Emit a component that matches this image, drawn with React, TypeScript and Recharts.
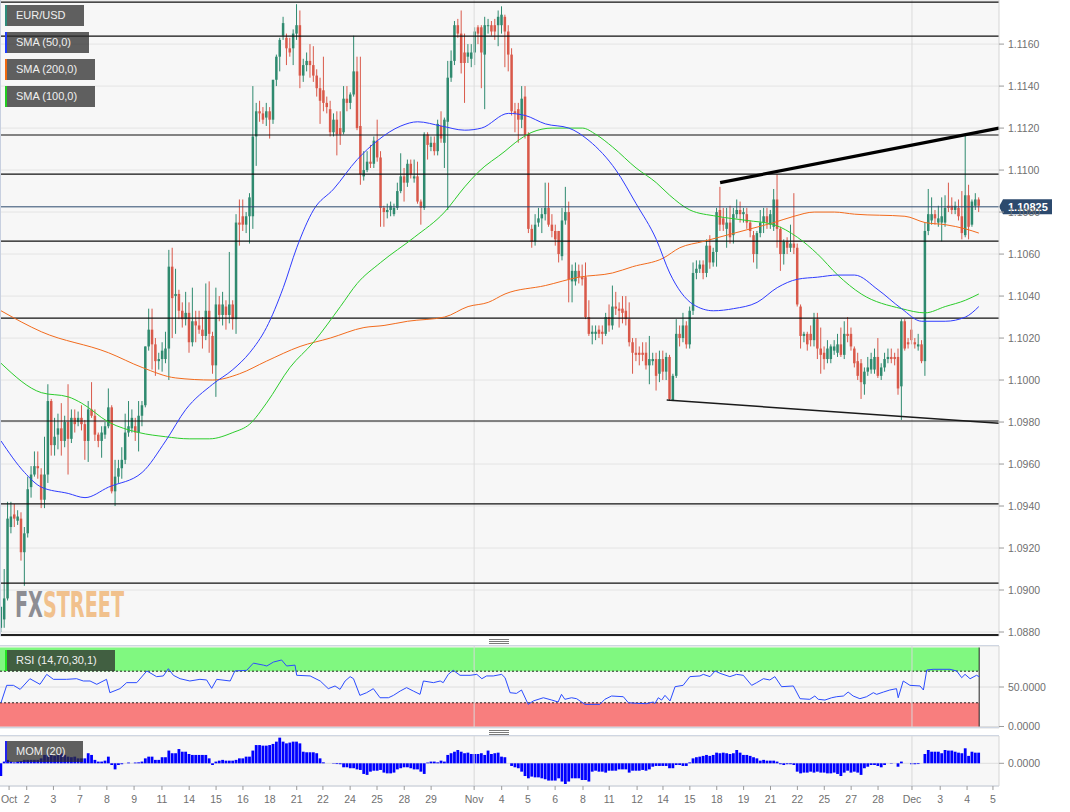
import React from "react";
import {
  ComposedChart,
  Bar,
  Line,
  XAxis,
  YAxis,
  CartesianGrid,
  ReferenceLine,
  ReferenceArea,
} from "recharts";

// ---------- DATA ----------
// 4h candles [open, high, low, close], index 0..291
const candles: number[][] = [
  [1.0882,1.0892,1.0880,1.0892],[1.0886,1.0910,1.0882,1.0896],[1.0896,1.0942,1.0895,1.0934],[1.0930,1.0942,1.0927,1.0935],
  [1.0936,1.0941,1.0930,1.0934],[1.0933,1.0938,1.0931,1.0935],[1.0934,1.0937,1.0914,1.0918],[1.0918,1.0930,1.0902,1.0927],
  [1.0927,1.0954,1.0925,1.0948],[1.0949,1.0959,1.0944,1.0955],[1.0955,1.0966,1.0954,1.0959],[1.0959,1.0966,1.0953,1.0958],
  [1.0955,1.0958,1.0939,1.0943],[1.0943,1.0973,1.0939,1.0955],[1.0955,1.0998,1.0951,1.0990],[1.0990,1.0991,1.0964,1.0969],
  [1.0969,1.0982,1.0964,1.0973],[1.0974,1.0984,1.0967,1.0977],[1.0977,1.0989,1.0964,1.0971],[1.0971,1.0983,1.0968,1.0980],
  [1.0980,1.0998,1.0955,1.0972],[1.0972,1.0986,1.0970,1.0982],[1.0982,1.0986,1.0975,1.0979],[1.0980,1.0985,1.0978,1.0982],
  [1.0982,1.0988,1.0976,1.0979],[1.0979,1.0981,1.0962,1.0971],[1.0971,1.0990,1.0961,1.0986],[1.0986,1.0999,1.0982,1.0983],
  [1.0983,1.0986,1.0971,1.0974],[1.0974,1.0975,1.0968,1.0971],[1.0971,1.0978,1.0963,1.0975],[1.0974,1.0980,1.0972,1.0978],
  [1.0978,1.0996,1.0977,1.0987],[1.0987,1.0988,1.0946,1.0947],[1.0947,1.0962,1.0940,1.0954],[1.0954,1.0962,1.0951,1.0958],
  [1.0958,1.0968,1.0953,1.0962],[1.0962,1.0984,1.0960,1.0975],[1.0975,1.0990,1.0973,1.0978],[1.0977,1.0986,1.0975,1.0982],
  [1.0978,1.0982,1.0971,1.0975],[1.0975,1.0990,1.0966,1.0983],[1.0983,1.0990,1.0978,1.0988],[1.0988,1.1016,1.0987,1.1016],
  [1.1016,1.1034,1.1014,1.1024],[1.1024,1.1034,1.1005,1.1017],[1.1017,1.1020,1.1002,1.1009],[1.1009,1.1013,1.1005,1.1010],
  [1.1010,1.1018,1.1004,1.1014],[1.1010,1.1023,1.1008,1.1015],[1.1015,1.1062,1.1000,1.1054],[1.1054,1.1063,1.1020,1.1039],
  [1.1040,1.1053,1.1022,1.1041],[1.1041,1.1043,1.1029,1.1033],[1.1033,1.1037,1.1025,1.1029],[1.1029,1.1042,1.1026,1.1032],
  [1.1032,1.1037,1.1013,1.1018],[1.1018,1.1044,1.1016,1.1028],[1.1028,1.1033,1.1018,1.1026],[1.1026,1.1033,1.1022,1.1024],
  [1.1024,1.1030,1.1015,1.1021],[1.1021,1.1046,1.1019,1.1033],[1.1033,1.1047,1.1013,1.1022],[1.1021,1.1023,1.1003,1.1007],
  [1.1007,1.1044,1.0992,1.1036],[1.1036,1.1040,1.1028,1.1031],[1.1031,1.1042,1.1026,1.1036],[1.1035,1.1038,1.1024,1.1031],
  [1.1031,1.1061,1.1027,1.1036],[1.1036,1.1038,1.1024,1.1029],[1.1029,1.1079,1.1022,1.1075],[1.1075,1.1086,1.1064,1.1074],
  [1.1078,1.1086,1.1071,1.1074],[1.1074,1.1080,1.1070,1.1078],[1.1078,1.1089,1.1065,1.1087],[1.1078,1.1140,1.1072,1.1116],
  [1.1116,1.1132,1.1102,1.1128],[1.1128,1.1133,1.1123,1.1127],[1.1127,1.1130,1.1122,1.1124],[1.1125,1.1132,1.1121,1.1128],
  [1.1128,1.1130,1.1115,1.1124],[1.1124,1.1143,1.1122,1.1143],[1.1143,1.1155,1.1140,1.1154],[1.1154,1.1163,1.1147,1.1162],
  [1.1164,1.1173,1.1162,1.1170],[1.1163,1.1165,1.1150,1.1158],[1.1158,1.1163,1.1154,1.1156],[1.1158,1.1167,1.1150,1.1165],
  [1.1165,1.1179,1.1162,1.1169],[1.1169,1.1176,1.1139,1.1145],[1.1145,1.1153,1.1142,1.1150],[1.1150,1.1156,1.1147,1.1152],
  [1.1152,1.1160,1.1144,1.1150],[1.1150,1.1159,1.1142,1.1145],[1.1145,1.1148,1.1135,1.1139],[1.1139,1.1144,1.1122,1.1133],
  [1.1138,1.1154,1.1128,1.1132],[1.1132,1.1135,1.1127,1.1130],[1.1129,1.1133,1.1116,1.1118],[1.1118,1.1127,1.1116,1.1124],
  [1.1124,1.1128,1.1107,1.1117],[1.1120,1.1128,1.1112,1.1117],[1.1118,1.1140,1.1117,1.1134],[1.1134,1.1140,1.1128,1.1132],
  [1.1132,1.1137,1.1129,1.1136],[1.1136,1.1164,1.1135,1.1147],[1.1147,1.1154,1.1119,1.1120],[1.1121,1.1154,1.1093,1.1098],
  [1.1097,1.1109,1.1095,1.1100],[1.1100,1.1109,1.1099,1.1104],[1.1104,1.1112,1.1101,1.1103],[1.1103,1.1116,1.1101,1.1114],
  [1.1114,1.1124,1.1104,1.1106],[1.1106,1.1109,1.1073,1.1082],[1.1082,1.1083,1.1073,1.1080],[1.1080,1.1084,1.1077,1.1081],
  [1.1081,1.1085,1.1078,1.1083],[1.1079,1.1084,1.1078,1.1082],[1.1082,1.1094,1.1081,1.1090],[1.1090,1.1108,1.1089,1.1097],
  [1.1097,1.1101,1.1085,1.1094],[1.1094,1.1105,1.1092,1.1103],[1.1103,1.1105,1.1096,1.1098],[1.1096,1.1105,1.1094,1.1097],
  [1.1097,1.1104,1.1084,1.1085],[1.1085,1.1086,1.1074,1.1082],[1.1082,1.1118,1.1081,1.1117],[1.1117,1.1118,1.1105,1.1112],
  [1.1111,1.1116,1.1109,1.1113],[1.1113,1.1116,1.1107,1.1109],[1.1109,1.1124,1.1107,1.1122],[1.1121,1.1128,1.1113,1.1115],
  [1.1113,1.1125,1.1101,1.1124],[1.1123,1.1152,1.1081,1.1144],[1.1144,1.1157,1.1142,1.1152],[1.1152,1.1171,1.1150,1.1169],
  [1.1169,1.1172,1.1163,1.1165],[1.1165,1.1176,1.1146,1.1151],[1.1156,1.1165,1.1132,1.1151],[1.1154,1.1160,1.1151,1.1156],
  [1.1153,1.1160,1.1149,1.1156],[1.1156,1.1168,1.1150,1.1166],[1.1168,1.1169,1.1160,1.1165],[1.1168,1.1169,1.1139,1.1156],
  [1.1155,1.1173,1.1129,1.1169],[1.1169,1.1172,1.1165,1.1169],[1.1169,1.1171,1.1164,1.1166],[1.1169,1.1172,1.1162,1.1166],
  [1.1169,1.1176,1.1159,1.1173],[1.1169,1.1178,1.1165,1.1174],[1.1173,1.1174,1.1149,1.1166],[1.1166,1.1169,1.1147,1.1155],
  [1.1155,1.1158,1.1126,1.1128],[1.1128,1.1132,1.1118,1.1127],[1.1129,1.1132,1.1113,1.1124],[1.1124,1.1140,1.1120,1.1134],
  [1.1135,1.1140,1.1115,1.1117],[1.1117,1.1118,1.1070,1.1072],[1.1072,1.1074,1.1063,1.1066],[1.1066,1.1079,1.1064,1.1074],
  [1.1075,1.1082,1.1073,1.1077],[1.1077,1.1082,1.1070,1.1079],[1.1079,1.1094,1.1076,1.1082],[1.1082,1.1094,1.1073,1.1074],
  [1.1074,1.1079,1.1068,1.1071],[1.1071,1.1074,1.1064,1.1067],[1.1071,1.1071,1.1056,1.1060],[1.1059,1.1082,1.1057,1.1076],
  [1.1076,1.1092,1.1074,1.1080],[1.1080,1.1085,1.1037,1.1048],[1.1047,1.1055,1.1037,1.1052],[1.1047,1.1056,1.1045,1.1052],
  [1.1052,1.1055,1.1046,1.1049],[1.1049,1.1055,1.1045,1.1048],[1.1049,1.1056,1.1029,1.1030],[1.1030,1.1038,1.1021,1.1022],
  [1.1022,1.1026,1.1017,1.1023],[1.1022,1.1026,1.1019,1.1023],[1.1024,1.1026,1.1020,1.1022],[1.1023,1.1026,1.1017,1.1022],
  [1.1022,1.1032,1.1021,1.1030],[1.1030,1.1036,1.1023,1.1026],[1.1026,1.1045,1.1024,1.1035],[1.1035,1.1042,1.1031,1.1034],
  [1.1034,1.1037,1.1025,1.1033],[1.1034,1.1040,1.1027,1.1032],[1.1033,1.1040,1.1026,1.1029],[1.1029,1.1037,1.1016,1.1018],
  [1.1018,1.1020,1.1003,1.1013],[1.1013,1.1020,1.1009,1.1012],[1.1013,1.1016,1.1007,1.1012],[1.1013,1.1018,1.1009,1.1012],
  [1.1013,1.1018,1.1005,1.1007],[1.1007,1.1021,1.0998,1.1010],[1.1009,1.1013,1.1007,1.1010],[1.1010,1.1013,1.0995,1.1002],
  [1.1003,1.1014,1.0999,1.1010],[1.1010,1.1014,1.1000,1.1004],[1.1004,1.1013,1.1000,1.1011],[1.1011,1.1012,1.0990,1.0991],
  [1.0990,1.1003,1.0990,1.1002],[1.1002,1.1029,1.1001,1.1022],[1.1022,1.1026,1.1016,1.1020],[1.1020,1.1032,1.1018,1.1026],
  [1.1026,1.1028,1.1015,1.1017],[1.1017,1.1035,1.1015,1.1033],[1.1033,1.1056,1.1031,1.1051],[1.1051,1.1057,1.1048,1.1053],
  [1.1053,1.1057,1.1051,1.1055],[1.1055,1.1057,1.1048,1.1051],[1.1051,1.1067,1.1049,1.1064],[1.1064,1.1069,1.1053,1.1056],
  [1.1056,1.1063,1.1054,1.1061],[1.1061,1.1082,1.1054,1.1080],[1.1081,1.1092,1.1071,1.1074],[1.1077,1.1082,1.1071,1.1074],
  [1.1072,1.1082,1.1063,1.1075],[1.1075,1.1083,1.1065,1.1068],[1.1069,1.1082,1.1065,1.1079],[1.1079,1.1086,1.1077,1.1081],
  [1.1081,1.1085,1.1075,1.1079],[1.1079,1.1082,1.1075,1.1080],[1.1079,1.1082,1.1072,1.1075],[1.1075,1.1076,1.1068,1.1071],
  [1.1069,1.1071,1.1056,1.1060],[1.1060,1.1071,1.1053,1.1070],[1.1070,1.1081,1.1068,1.1075],[1.1075,1.1082,1.1070,1.1078],
  [1.1078,1.1082,1.1072,1.1075],[1.1074,1.1081,1.1072,1.1079],[1.1073,1.1091,1.1071,1.1086],[1.1086,1.1098,1.1063,1.1072],
  [1.1072,1.1073,1.1052,1.1060],[1.1060,1.1067,1.1055,1.1066],[1.1066,1.1068,1.1060,1.1063],[1.1063,1.1074,1.1061,1.1065],
  [1.1065,1.1089,1.1060,1.1063],[1.1063,1.1065,1.1035,1.1036],[1.1035,1.1036,1.1015,1.1021],[1.1021,1.1023,1.1018,1.1022],
  [1.1022,1.1023,1.1014,1.1017],[1.1022,1.1026,1.1016,1.1019],[1.1019,1.1032,1.1016,1.1029],[1.1029,1.1032,1.1010,1.1015],
  [1.1015,1.1025,1.1003,1.1012],[1.1013,1.1016,1.1005,1.1010],[1.1010,1.1019,1.1008,1.1015],[1.1010,1.1017,1.1008,1.1016],
  [1.1014,1.1019,1.1012,1.1016],[1.1013,1.1022,1.1011,1.1017],[1.1017,1.1025,1.1011,1.1012],[1.1012,1.1028,1.1010,1.1022],
  [1.1022,1.1030,1.1018,1.1021],[1.1022,1.1025,1.1014,1.1016],[1.1015,1.1016,1.1006,1.1008],[1.1009,1.1013,1.1000,1.1002],
  [1.1008,1.1010,1.0991,1.0999],[1.0998,1.1006,1.0993,1.1004],[1.1004,1.1011,1.1002,1.1006],[1.1005,1.1013,1.1003,1.1010],
  [1.1005,1.1015,1.1003,1.1011],[1.1011,1.1020,1.1001,1.1002],[1.1002,1.1008,1.1000,1.1006],[1.1006,1.1013,1.1004,1.1010],
  [1.1010,1.1015,1.1008,1.1011],[1.1011,1.1015,1.1008,1.1010],[1.1011,1.1013,1.1007,1.1010],[1.1011,1.1015,1.0993,1.0996],
  [1.0997,1.1029,1.0981,1.1028],[1.1028,1.1029,1.1014,1.1015],[1.1018,1.1020,1.1015,1.1017],[1.1024,1.1029,1.1017,1.1019],
  [1.1018,1.1020,1.1015,1.1017],[1.1016,1.1022,1.1014,1.1017],[1.1017,1.1019,1.1008,1.1009],[1.1009,1.1075,1.1002,1.1071],
  [1.1071,1.1091,1.1069,1.1079],[1.1076,1.1087,1.1074,1.1079],[1.1079,1.1081,1.1074,1.1077],[1.1075,1.1083,1.1073,1.1077],
  [1.1075,1.1087,1.1066,1.1078],[1.1075,1.1088,1.1073,1.1082],[1.1083,1.1094,1.1080,1.1082],[1.1083,1.1087,1.1079,1.1081],
  [1.1081,1.1085,1.1079,1.1083],[1.1082,1.1086,1.1076,1.1078],[1.1078,1.1090,1.1067,1.1070],[1.1069,1.1117,1.1068,1.1088],
  [1.1088,1.1093,1.1067,1.1073],[1.1074,1.1086,1.1073,1.1085],[1.1083,1.1089,1.1081,1.1086],[1.1086,1.1087,1.1080,1.1083],
];

// Moving averages: [candle index, value]
const sma50: number[][] = [
  [0,1.0971],[7,1.0956],[12,1.0949],[20,1.0946],[25,1.0944],[32,1.0949],[42,1.0956],[49,1.0971],[55,1.0986],[63,1.0998],
  [69,1.1005],[74,1.1013],[79,1.1025],[84,1.1044],[88,1.1063],[93,1.1081],[99,1.1091],[106,1.1105],[112,1.1114],[119,1.1121],
  [124,1.1123],[131,1.1121],[138,1.1119],[143,1.1120],[151,1.1127],[156,1.1126],[162,1.1122],[169,1.1120],[175,1.1114],[183,1.1100],
  [189,1.1084],[195,1.1067],[199,1.1051],[206,1.1036],[212,1.1033],[218,1.1034],[225,1.1037],[231,1.1044],[237,1.1048],[243,1.1049],
  [249,1.1050],[254,1.1050],[261,1.1043],[268,1.1034],[274,1.1028],[281,1.1028],[287,1.1030],[291,1.1035],
];
const sma200: number[][] = [
  [0,1.1033],[12,1.1023],[32,1.1013],[42,1.1006],[52,1.1001],[63,1.1000],[71,1.1003],[79,1.1009],[89,1.1016],[98,1.1020],
  [108,1.1025],[114,1.1026],[121,1.1028],[132,1.1030],[139,1.1035],[145,1.1037],[150,1.1041],[162,1.1045],[172,1.1049],[182,1.1051],
  [188,1.1054],[197,1.1058],[202,1.1063],[209,1.1066],[216,1.1069],[223,1.1072],[230,1.1075],[236,1.1078],[242,1.1080],[248,1.1080],
  [254,1.1079],[269,1.1078],[275,1.1075],[281,1.1074],[287,1.1072],[291,1.1070],
];
const sma100: number[][] = [
  [0,1.1008],[12,1.0994],[20,1.0992],[24,1.0989],[32,1.0980],[41,1.0975],[49,1.0973],[56,1.0972],[62,1.0972],[69,1.0975],
  [74,1.0979],[79,1.0989],[86,1.1006],[93,1.1018],[101,1.1035],[106,1.1046],[113,1.1056],[123,1.1068],[132,1.1080],[138,1.1092],
  [142,1.1099],[150,1.1109],[153,1.1113],[158,1.1118],[164,1.1120],[169,1.1120],[173,1.1120],[177,1.1117],[182,1.1111],[189,1.1101],
  [195,1.1094],[199,1.1088],[205,1.1081],[213,1.1078],[222,1.1076],[230,1.1074],[237,1.1068],[243,1.1060],[249,1.1050],[256,1.1041],
  [268,1.1034],[275,1.1032],[281,1.1035],[287,1.1038],[291,1.1041],
];

// RSI(14): [candle index, value]
const rsiPoints: number[][] = [
  [0,30.1],[1.7,52.1],[3.7,52.1],[5.7,47.0],[8.6,60.5],[11.6,53.4],[13.6,66.0],[15.6,59.7],[19.5,59.7],[22.5,60.5],
  [24.5,57.6],[26.5,57.6],[28.5,53.4],[31.4,59.7],[32.4,42.8],[35.4,47.9],[37.4,55.5],[40.4,55.5],[43.4,70.3],[46.3,63.1],
  [48.3,64.0],[49.8,73.2],[51.3,64.8],[53.3,60.5],[56.2,57.6],[59.2,59.7],[61.2,58.9],[62.7,48.3],[64.2,59.7],[68.2,57.6],
  [69.6,70.3],[73.1,71.1],[75.1,80.2],[78.1,77.7],[79.1,76.6],[81.1,81.6],[83.5,84.2],[85.0,76.6],[87.5,77.7],[88.0,64.8],
  [92.0,64.0],[95.0,57.6],[97.4,47.9],[99.4,51.3],[100.9,47.0],[102.4,57.6],[103.9,63.1],[104.9,60.5],[106.8,39.4],[108.8,42.8],
  [110.8,47.9],[112.8,36.4],[115.3,36.4],[116.8,39.4],[118.8,44.9],[120.7,49.2],[122.7,44.9],[124.7,40.7],[125.7,57.6],[128.7,55.5],
  [130.7,57.6],[131.6,55.5],[133.1,66.0],[134.6,71.1],[136.6,64.8],[139.6,64.8],[141.6,66.0],[143.1,60.5],[144.5,64.0],[146.5,64.0],
  [149,66.0],[150,61.8],[151.5,42.8],[153.4,41.9],[154.9,46.2],[156.9,28.0],[158.4,32.3],[161.4,36.4],[163.9,33.5],[165.8,31.0],
  [166.8,40.7],[167.8,34.4],[169.8,36.4],[171.3,35.2],[173.8,28.0],[178.2,28.0],[179.7,34.4],[181.7,38.6],[185.2,37.7],[186.7,30.1],
  [189.2,29.3],[192.1,28.9],[194.1,31.0],[194.6,28.9],[195.6,36.4],[196.6,33.5],[197.6,39.4],[199.1,32.3],[200.6,50.4],[203.0,52.1],
  [205.0,63.1],[208.0,64.0],[209.0,66.0],[211.0,63.1],[212.5,70.3],[214.0,67.3],[216.9,63.1],[218.9,66.0],[220.9,64.8],[223.4,52.1],
  [224.9,55.5],[226.9,60.5],[228.8,58.9],[230.3,63.1],[232.3,50.4],[235.8,51.3],[237.8,35.2],[240.7,34.4],[242.2,38.6],[243.2,34.4],
  [245.2,33.5],[247.2,36.4],[248.7,37.7],[250.7,38.6],[252.1,43.6],[253.6,38.6],[255.6,35.2],[257.6,37.7],[259.6,42.8],[260.6,40.7],
  [262.6,43.6],[264.5,46.2],[266.5,47.9],[267.0,36.4],[268.5,57.6],[270.5,52.1],[273.5,51.3],[274.5,46.2],[275.5,71.5],[277.4,72.4],
  [282.4,72.4],[284.4,70.3],[285.9,61.8],[286.9,66.0],[288.4,60.5],[290.3,64.8],[291.1,63.1],
];

// Momentum(20), one value per candle, in pips
const momPips: number[] = [
  -67,9,18,9,5,9,12,18,18,18, 18,18,26,44,44,44,39,44,53,44, 35,32,35,26,26,26,53,44,18,9,
  9,14,35,-9,-32,-9,-5,0,4,0, 4,5,9,26,35,35,18,18,32,32, 67,53,53,75,61,61,49,44,44,44,
  44,44,26,-9,9,14,18,14,14,14, 18,26,26,35,35,67,96,96,93,93, 96,102,114,135,114,105,109,114,114,105,
  61,58,58,58,53,26,5,0,0,-2, -4,-5,-21,-21,-26,-26,-32,-35,-56,-61, -44,-39,-39,-35,-49,-53,-53,-49,-32,-26,
  -21,-21,-26,-32,-32,-44,-56,4,9,9, 5,14,9,44,53,61,70,61,53,56, 49,49,49,53,44,67,
  49,53,56,35,32,0,-14,-21,-26,-44, -67,-79,-70,-74,-74,-79,-84,-91,-91,-91, -79,-96,-109,-96,-79,-79,-79,-88,-88,-96,
  -44,-39,-44,-44,-49,-39,-39,-39,-32,-32, -32,-49,-39,-39,-39,-35,-39,-32,-18,-14, -14,-14,-14,-26,-26,-9,-9,-14,-14,5,
  26,32,35,39,44,39,44,56,53,56, 53,49,53,70,56,44,44,39,32,26, 14,18,14,14,14,9,-5,-9,-5,-5,
  -9,-44,-53,-49,-49,-44,-49,-44,-49,-49, -53,-53,-49,-56,-67,-49,-39,-49,-44,-49, -61,-26,-18,-9,-9,-14,-21,-9,0,-2,
  0,-18,9,0,0,-5,-5,-4,0,49, 70,61,61,61,53,70,67,67,61,56, 53,79,39,61,56,56,
];

const priceTicks = [1.088,1.09,1.092,1.094,1.096,1.098,1.1,1.102,1.104,1.106,1.108,1.11,1.112,1.114,1.116];
const levels = [1.1180,1.11638,1.11167,1.10981,1.10662,1.10295,1.09805,1.0941,1.09033];
const lastPrice = 1.10825;
const upperTrend = [[214,1.1094],[297,1.1120]];
const lowerTrend = [[198.1,1.09905],[297,1.09794]];
const monthStarts = [140.8, 271.1];
const xTickPos = [2.4,7.65,15.6,23.5,31.5,39.6,47.9,56,64,72,80,88,95.8,103.9,111.9,120,128,
  140.8,149,156.8,164.9,173.2,181,189.3,197,205,213,221,229,237,245,253,261,271.1,279.5,287.5,295.2];
const xTickLabels = ["Oct","2","3","7","8","9","11","14","15","16","18","21","22","24","25","28","29",
  "Nov","4","5","6","8","11","12","14","15","18","19","21","22","25","27","28","Dec","3","4","5"];

// ---------- BUILD ----------
const X_MIN = -0.3;
const X_MAX = 297;
const BAND_END = 291.1;
const FONT = '"Liberation Sans", Arial, Helvetica, sans-serif';
const UP = "#2f8a6f";
const DOWN = "#d9594a";

const mainData: any[] = candles.map((c, i) => ({ i, o: c[0], h: c[1], l: c[2], c: c[3], range: [c[2], c[1]] }));
sma50.forEach(([i, v]) => { mainData[i].s50 = v; });
sma200.forEach(([i, v]) => { mainData[i].s200 = v; });
sma100.forEach(([i, v]) => { mainData[i].s100 = v; });
const rsiData = rsiPoints.map(([i, v]) => ({ i, v }));
const momData = momPips.map((p, i) => ({ i, m: p / 10000 }));

function Candle(props: any) {
  const { x, y, width, height, payload } = props;
  if (!payload || x == null || y == null || height == null) return null;
  const top = Math.min(y, y + height);
  const span = Math.abs(height);
  const { o, h, l, c } = payload;
  const cx = x + width / 2;
  const k = h - l > 0 ? span / (h - l) : 0;
  const yo = top + (h - o) * k;
  const yc = top + (h - c) * k;
  const col = c >= o ? UP : DOWN;
  const bt = Math.min(yo, yc);
  const bh = Math.max(Math.abs(yo - yc), 1);
  return (
    <g>
      <line x1={cx} x2={cx} y1={top} y2={top + span} stroke={col} strokeWidth={1} />
      <rect x={cx - 1.25} y={bt} width={2.5} height={bh} fill={col} />
    </g>
  );
}

function MomBar(props: any) {
  const { x, y, width, height } = props;
  if (x == null || y == null || !height) return null;
  const top = Math.min(y, y + height);
  const cx = x + width / 2;
  return <rect x={cx - 1.4} y={top} width={2.8} height={Math.abs(height)} fill="#0000ff" />;
}

function PriceTag(props: any) {
  const vb = props.viewBox || {};
  const x0 = (vb.x || 0) + (vb.width || 0);
  const yc = vb.y || 0;
  return (
    <g>
      <path d={`M${x0} ${yc} L${x0 + 4} ${yc - 7.5} L${x0 + 53} ${yc - 7.5} L${x0 + 53} ${yc + 7.5} L${x0 + 4} ${yc + 7.5} Z`} fill="#2c4a6e" />
      <text x={x0 + 9} y={yc + 4} fill="#ffffff" fontSize={11} fontWeight="bold" fontFamily={FONT}>
        {lastPrice.toFixed(5)}
      </text>
    </g>
  );
}

const axisTick = { fontSize: 10.5, fill: "#707070", fontFamily: FONT };

function LegendBox(props: { top: number; width: number; stripe: string; text: string }) {
  return (
    <div
      style={{
        position: "absolute", left: 5, top: props.top, width: props.width, height: 21,
        background: "rgba(44,44,44,0.75)", color: "#f0f0f0", font: `11px ${FONT}`,
        lineHeight: "21px", paddingLeft: 11, boxSizing: "border-box", whiteSpace: "nowrap",
      }}
    >
      <div style={{ position: "absolute", left: 0, top: 0, width: 2, height: 21, background: props.stripe }} />
      {props.text}
    </div>
  );
}

function Handle(props: { top: number }) {
  return (
    <div style={{ position: "absolute", left: 489, top: props.top, width: 20, height: 6 }}>
      {[0, 2, 4].map((d) => (
        <div key={d} style={{ position: "absolute", left: 0, top: d, width: 20, height: 1, background: "#7a7a7a" }} />
      ))}
    </div>
  );
}

export default function App() {
  return (
    <div style={{ position: "absolute", left: 0, top: 0, width: 1070, height: 812, background: "#ffffff", overflow: "hidden", fontFamily: FONT }}>
      {/* Main price panel */}
      <div style={{ position: "absolute", left: 0, top: 0 }}>
        <ComposedChart width={1070} height={646} data={mainData} margin={{ top: 0, right: 0, bottom: 10, left: 0 }}>
          <CartesianGrid vertical={false} stroke="#e4e4e4" fill="#f7f7f7" />
          <XAxis dataKey="i" type="number" domain={[X_MIN, X_MAX]} allowDataOverflow hide />
          <YAxis
            orientation="right" width={71} domain={[1.08781, 1.1181]} allowDataOverflow ticks={priceTicks} interval={0}
            tickFormatter={(v: number) => v.toFixed(4)} tick={axisTick} tickLine={{ stroke: "#9a9a9a" }} tickSize={5} tickMargin={4}
            axisLine={{ stroke: "#d5d5d5" }}
          />
          {monthStarts.map((m) => (
            <ReferenceLine key={"m" + m} x={m} stroke="#dcdcdc" />
          ))}
          {levels.map((v) => (
            <ReferenceLine key={"l" + v} y={v} stroke="#111111" strokeWidth={1.2} />
          ))}
          <ReferenceLine y={1.08786} stroke="#222222" strokeWidth={2} />
          <Bar dataKey="range" shape={(p: any) => <Candle {...p} />} barSize={3} isAnimationActive={false} />
          <Line dataKey="s200" type="monotone" stroke="#f26b1d" strokeWidth={1} dot={false} connectNulls isAnimationActive={false} />
          <Line dataKey="s100" type="monotone" stroke="#2ccc2c" strokeWidth={1} dot={false} connectNulls isAnimationActive={false} />
          <Line dataKey="s50" type="monotone" stroke="#2f3cff" strokeWidth={1} dot={false} connectNulls isAnimationActive={false} />
          <ReferenceLine
            segment={[{ x: upperTrend[0][0], y: upperTrend[0][1] }, { x: upperTrend[1][0], y: upperTrend[1][1] }]}
            stroke="#000000" strokeWidth={3.2}
          />
          <ReferenceLine
            segment={[{ x: lowerTrend[0][0], y: lowerTrend[0][1] }, { x: lowerTrend[1][0], y: lowerTrend[1][1] }]}
            stroke="#1a1a1a" strokeWidth={1.5}
          />
          <ReferenceLine y={lastPrice} stroke="#2c4a6e" strokeWidth={1} label={PriceTag} />
        </ComposedChart>
      </div>

      {/* RSI panel */}
      <div style={{ position: "absolute", left: 0, top: 646 }}>
        <ComposedChart width={1070} height={92} data={rsiData} margin={{ top: 0, right: 0, bottom: 10, left: 0 }}>
          <CartesianGrid vertical={false} stroke="#dedede" fill="#f7f7f7" />
          <XAxis dataKey="i" type="number" domain={[X_MIN, X_MAX]} allowDataOverflow hide />
          <YAxis
            orientation="right" width={71} domain={[-1.9, 101.9]} allowDataOverflow ticks={[0, 50]} interval={0}
            tickFormatter={(v: number) => v.toFixed(4)} tick={axisTick} tickLine={{ stroke: "#9a9a9a" }} tickSize={5} tickMargin={4}
            axisLine={{ stroke: "#d5d5d5" }}
          />
          <ReferenceArea x1={X_MIN} x2={BAND_END} y1={70} y2={100} fill="#80f880" fillOpacity={1} stroke="none" />
          <ReferenceArea x1={X_MIN} x2={BAND_END} y1={0} y2={30} fill="#f87e7e" fillOpacity={1} stroke="none" />
          <ReferenceLine segment={[{ x: X_MIN, y: 70 }, { x: BAND_END, y: 70 }]} stroke="#222" strokeDasharray="2 2" />
          <ReferenceLine segment={[{ x: X_MIN, y: 30 }, { x: BAND_END, y: 30 }]} stroke="#222" strokeDasharray="2 2" />
          <ReferenceLine segment={[{ x: BAND_END, y: 0 }, { x: BAND_END, y: 100 }]} stroke="#222" />
          {monthStarts.map((m) => (
            <ReferenceLine key={"rm" + m} x={m} stroke="#d8d8d8" />
          ))}
          <Line dataKey="v" type="linear" stroke="#2b4cff" strokeWidth={1} dot={false} isAnimationActive={false} />
        </ComposedChart>
      </div>

      {/* Momentum panel */}
      <div style={{ position: "absolute", left: 0, top: 736 }}>
        <ComposedChart width={1070} height={76} data={momData} margin={{ top: 0, right: 0, bottom: 6, left: 0 }}>
          <CartesianGrid vertical={false} stroke="#dedede" fill="#f7f7f7" />
          <XAxis
            dataKey="i" type="number" domain={[X_MIN, X_MAX]} allowDataOverflow ticks={xTickPos} interval={0} height={20}
            tickFormatter={(v: number) => xTickLabels[xTickPos.indexOf(v)] || ""} tick={axisTick}
            tickLine={{ stroke: "#9a9a9a" }} tickSize={4} tickMargin={6} axisLine={{ stroke: "#c9d0dc" }}
          />
          <YAxis
            orientation="right" width={71} domain={[-0.01195, 0.01437]} allowDataOverflow ticks={[0]} interval={0}
            tickFormatter={(v: number) => v.toFixed(4)} tick={axisTick} tickLine={{ stroke: "#9a9a9a" }} tickSize={5} tickMargin={4}
            axisLine={{ stroke: "#d5d5d5" }}
          />
          {monthStarts.map((m) => (
            <ReferenceLine key={"mm" + m} x={m} stroke="#d8d8d8" />
          ))}
          <Bar dataKey="m" shape={(p: any) => <MomBar {...p} />} barSize={3} isAnimationActive={false} />
        </ComposedChart>
      </div>

      {/* frame lines */}
      <div style={{ position: "absolute", left: 0, top: 0, width: 1, height: 636, background: "#c8d0e0" }} />
      <div style={{ position: "absolute", left: 0, top: 645, width: 999, height: 1, background: "#cfd6e2" }} />
      <div style={{ position: "absolute", left: 0, top: 727, width: 999, height: 1, background: "#cfd6e2" }} />
      <div style={{ position: "absolute", left: 0, top: 735, width: 999, height: 1, background: "#cfd6e2" }} />
      <Handle top={639} />
      <Handle top={730} />

      {/* legends */}
      <LegendBox top={5} width={79} stripe="#2e8b7a" text="EUR/USD" />
      <LegendBox top={32} width={84} stripe="#1f3cff" text="SMA (50,0)" />
      <LegendBox top={59} width={90} stripe="#f06a10" text="SMA (200,0)" />
      <LegendBox top={86} width={90} stripe="#22cc22" text="SMA (100,0)" />
      <LegendBox top={650} width={110} stripe="#22e622" text="RSI (14,70,30,1)" />
      <LegendBox top={741} width={78} stripe="#2020ee" text="MOM (20)" />

      {/* watermark */}
      <svg style={{ position: "absolute", left: 0, top: 575, pointerEvents: "none", overflow: "visible" }} width={300} height={60}>
        <text x={15} y={42} fontSize={36} fontWeight="bold" fontFamily='"DejaVu Sans Condensed", "DejaVu Sans", sans-serif'
          textLength={109} lengthAdjust="spacingAndGlyphs">
          <tspan fill="#8d8d93">FX</tspan>
          <tspan fill="#f1c18d">STREET</tspan>
        </text>
      </svg>
    </div>
  );
}
